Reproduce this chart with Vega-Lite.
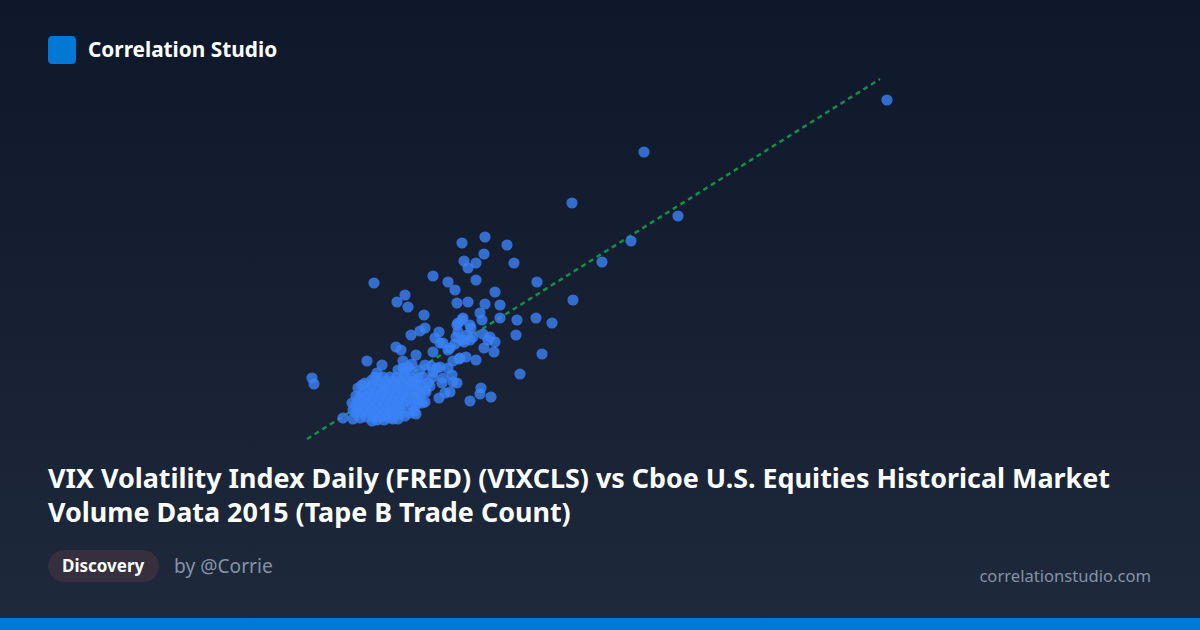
{
  "$schema": "https://vega.github.io/schema/vega-lite/v5.json",
  "width": 1200,
  "height": 630,
  "autosize": {"type": "fit", "contains": "padding"},
  "padding": 0,
  "background": "#0f172a",
  "config": {"view": {"stroke": null}},
  "datasets": {
    "days": [
      {"vix":39.35,"trades":5300},{"vix":27.2,"trades":4780},{"vix":23.6,"trades":4270},{"vix":28.9,"trades":4140},{"vix":26.55,"trades":3890},{"vix":25.1,"trades":3680},{"vix":23.65,"trades":3300},{"vix":21.85,"trades":3480},{"vix":20.35,"trades":3850},{"vix":20.7,"trades":3670},
      {"vix":19.25,"trades":3930},{"vix":18.1,"trades":3870},{"vix":18.2,"trades":3690},{"vix":18.8,"trades":3670},{"vix":19.2,"trades":3760},{"vix":18.4,"trades":3620},{"vix":18.8,"trades":3500},{"vix":16.65,"trades":3540},{"vix":17.4,"trades":3480},{"vix":17.75,"trades":3400},
      {"vix":13.7,"trades":3470},{"vix":15.25,"trades":3350},{"vix":14.85,"trades":3280},{"vix":15.4,"trades":3230},{"vix":17.85,"trades":3270},{"vix":18.4,"trades":3280},{"vix":19.25,"trades":3260},{"vix":19.75,"trades":3380},{"vix":20,"trades":3250},{"vix":20,"trades":3120},
      {"vix":19,"trades":3170},{"vix":20.85,"trades":3100},{"vix":21.8,"trades":3120},{"vix":22.6,"trades":3070},{"vix":20.8,"trades":2950},{"vix":22.1,"trades":2760},{"vix":21,"trades":2560},{"vix":16.2,"trades":3150},{"vix":15.55,"trades":2950},{"vix":16,"trades":2990},
      {"vix":16.25,"trades":3020},{"vix":16.75,"trades":2920},{"vix":16.95,"trades":2980},{"vix":17.85,"trades":3050},{"vix":18.1,"trades":3100},{"vix":18.5,"trades":3050},{"vix":19.1,"trades":3100},{"vix":17.9,"trades":2980},{"vix":17.8,"trades":2930},{"vix":18.5,"trades":2900},
      {"vix":19.15,"trades":2960},{"vix":19.5,"trades":2930},{"vix":19.75,"trades":2880},{"vix":19.2,"trades":2820},{"vix":19.7,"trades":2780},{"vix":18.65,"trades":2930},{"vix":18.2,"trades":2880},{"vix":17.75,"trades":2860},{"vix":17.4,"trades":2800},{"vix":17,"trades":2870},
      {"vix":16.65,"trades":2780},{"vix":18.8,"trades":2700},{"vix":18.3,"trades":2730},{"vix":18,"trades":2720},{"vix":17.65,"trades":2690},{"vix":14.8,"trades":2830},{"vix":15.05,"trades":2800},{"vix":13.35,"trades":2690},{"vix":15.15,"trades":2690},{"vix":15.8,"trades":2750},
      {"vix":15.6,"trades":2660},{"vix":16.25,"trades":2650},{"vix":16.55,"trades":2640},{"vix":17,"trades":2630},{"vix":17.4,"trades":2620},{"vix":17.6,"trades":2550},{"vix":17.15,"trades":2520},{"vix":16.65,"trades":2580},{"vix":17.85,"trades":2470},{"vix":17.65,"trades":2480},
      {"vix":16.4,"trades":2470},{"vix":17.1,"trades":2470},{"vix":17.5,"trades":2380},{"vix":17.25,"trades":2370},{"vix":16.95,"trades":2320},{"vix":18.5,"trades":2290},{"vix":19,"trades":2360},{"vix":19.05,"trades":2420},{"vix":19.55,"trades":2330},{"vix":10.6,"trades":2520},
      {"vix":10.7,"trades":2460},{"vix":12.15,"trades":2120},{"vix":14.1,"trades":2650},{"vix":13.85,"trades":2570},{"vix":13.25,"trades":2470},{"vix":12.9,"trades":2420},{"vix":12.65,"trades":2200},{"vix":12.65,"trades":2110},{"vix":13,"trades":2120},{"vix":13.6,"trades":2090},
      {"vix":14.65,"trades":2110},{"vix":15.5,"trades":2170},{"vix":15.8,"trades":2160},{"vix":16.1,"trades":2270},{"vix":16.25,"trades":2280},{"vix":17.15,"trades":2870},{"vix":17.5,"trades":2820},{"vix":18.1,"trades":2900},{"vix":17.95,"trades":2710},{"vix":17.9,"trades":3070},
      {"vix":18.15,"trades":3120},{"vix":18.55,"trades":3020},{"vix":18.35,"trades":2950},{"vix":19.4,"trades":2900},
      {"vix":14.15,"trades":2530},{"vix":14.5,"trades":2530},{"vix":14.85,"trades":2530},{"vix":15.2,"trades":2530},
      {"vix":13.9,"trades":2490},{"vix":14.3,"trades":2490},{"vix":14.65,"trades":2490},{"vix":15,"trades":2490},{"vix":15.4,"trades":2490},{"vix":15.65,"trades":2490},
      {"vix":13.6,"trades":2450},{"vix":14.1,"trades":2450},{"vix":14.45,"trades":2450},{"vix":14.8,"trades":2450},{"vix":15.15,"trades":2450},{"vix":15.5,"trades":2450},{"vix":15.85,"trades":2450},
      {"vix":13.5,"trades":2410},{"vix":13.9,"trades":2410},{"vix":14.25,"trades":2410},{"vix":14.6,"trades":2410},{"vix":14.95,"trades":2410},{"vix":15.3,"trades":2410},{"vix":15.7,"trades":2410},
      {"vix":13.1,"trades":2370},{"vix":13.4,"trades":2370},{"vix":13.75,"trades":2370},{"vix":14.1,"trades":2370},{"vix":14.45,"trades":2370},{"vix":14.8,"trades":2370},{"vix":15.15,"trades":2370},{"vix":15.55,"trades":2370},{"vix":15.95,"trades":2370},
      {"vix":13,"trades":2330},{"vix":13.3,"trades":2330},{"vix":13.65,"trades":2330},{"vix":14,"trades":2330},{"vix":14.35,"trades":2330},{"vix":14.7,"trades":2330},{"vix":15.05,"trades":2330},{"vix":15.4,"trades":2330},{"vix":15.75,"trades":2330},
      {"vix":12.9,"trades":2290},{"vix":13.2,"trades":2290},{"vix":13.55,"trades":2290},{"vix":13.9,"trades":2290},{"vix":14.25,"trades":2290},{"vix":14.6,"trades":2290},{"vix":14.95,"trades":2290},{"vix":15.3,"trades":2290},
      {"vix":12.8,"trades":2250},{"vix":13.1,"trades":2250},{"vix":13.45,"trades":2250},{"vix":13.8,"trades":2250},{"vix":14.15,"trades":2250},{"vix":14.5,"trades":2250},{"vix":14.85,"trades":2250},{"vix":15.15,"trades":2250},{"vix":15.8,"trades":2250},
      {"vix":12.9,"trades":2210},{"vix":13.25,"trades":2210},{"vix":13.6,"trades":2210},{"vix":13.95,"trades":2210},{"vix":14.3,"trades":2210},{"vix":14.65,"trades":2210},{"vix":15,"trades":2210},
      {"vix":12.8,"trades":2170},{"vix":13.1,"trades":2170},{"vix":13.45,"trades":2170},{"vix":13.8,"trades":2170},{"vix":14.15,"trades":2170},{"vix":14.5,"trades":2170},{"vix":14.85,"trades":2170},
      {"vix":13.3,"trades":2130},{"vix":13.65,"trades":2130},{"vix":14,"trades":2130},{"vix":14.35,"trades":2130},{"vix":13.85,"trades":2100},{"vix":14.2,"trades":2100},
      {"vix":15.5,"trades":2600},{"vix":16,"trades":2600},{"vix":15.65,"trades":2520},{"vix":16.15,"trades":2530},{"vix":16.65,"trades":2530},{"vix":15.25,"trades":2580},{"vix":16.85,"trades":2620},
      {"vix":15.6,"trades":2250},{"vix":15.9,"trades":2300},{"vix":15,"trades":2160},{"vix":15.25,"trades":2140},{"vix":16,"trades":2350},{"vix":16.3,"trades":2380},{"vix":15.7,"trades":2190},{"vix":16,"trades":2450},{"vix":16.25,"trades":2400},{"vix":16.5,"trades":2440},
      {"vix":15.9,"trades":2520},{"vix":13.6,"trades":2500},{"vix":13.75,"trades":2530},{"vix":13.1,"trades":2450},{"vix":12.8,"trades":2340},{"vix":12.6,"trades":2270},{"vix":14.5,"trades":2120},{"vix":14.9,"trades":2110},{"vix":15.4,"trades":2630},{"vix":14.9,"trades":2600},{"vix":15.15,"trades":2620}
    ],
    "trend": [{"vix":10.35,"trades":1910},{"vix":39,"trades":5510}]
  },
  "layer": [
    {
      "data": {"values": [{"part": "background"}]},
      "mark": {"type": "rect", "fill": {"gradient": "linear", "x1": 0, "y1": 0, "x2": 0, "y2": 1, "stops": [{"offset": 0, "color": "#0f172a"}, {"offset": 1, "color": "#1e293b"}]}},
      "encoding": {
        "x": {"datum": -5, "type": "quantitative", "axis": null, "scale": {"domain": [-5, 55], "nice": false, "zero": false}},
        "x2": {"datum": 55},
        "y": {"datum": 0, "type": "quantitative", "axis": null, "scale": {"domain": [0, 6300], "nice": false, "zero": false}},
        "y2": {"datum": 6300}
      }
    },
    {
      "data": {"values": [{"part": "footer"}]},
      "mark": {"type": "rect", "fill": "#0078d4"},
      "encoding": {"x": {"datum": -5, "type": "quantitative"}, "x2": {"datum": 55}, "y": {"datum": 0, "type": "quantitative"}, "y2": {"datum": 120}}
    },
    {
      "data": {"values": [{"part": "logo"}]},
      "mark": {"type": "rect", "fill": "#0078d4", "cornerRadius": 4},
      "encoding": {"x": {"datum": -2.6, "type": "quantitative"}, "x2": {"datum": -1.2}, "y": {"datum": 5940, "type": "quantitative"}, "y2": {"datum": 5660}}
    },
    {
      "data": {"values": [{"part": "pill"}]},
      "mark": {"type": "rect", "fill": "#352f3e", "cornerRadius": 16},
      "encoding": {"x": {"datum": -2.6, "type": "quantitative"}, "x2": {"datum": 2.95}, "y": {"datum": 800, "type": "quantitative"}, "y2": {"datum": 480}}
    },
    {
      "data": {"name": "trend"},
      "mark": {"type": "line", "stroke": "#16a34a", "strokeWidth": 2.5, "strokeDash": [5, 4], "opacity": 0.85},
      "encoding": {"x": {"field": "vix", "type": "quantitative"}, "y": {"field": "trades", "type": "quantitative"}}
    },
    {
      "data": {"name": "days"},
      "mark": {"type": "circle", "size": 125, "color": "#3b82f6", "opacity": 0.8},
      "encoding": {"x": {"field": "vix", "type": "quantitative"}, "y": {"field": "trades", "type": "quantitative"}}
    },
    {
      "data": {"values": [{"label": "Correlation Studio"}]},
      "mark": {"type": "text", "font": "Noto Sans", "fontWeight": 700, "fontSize": 20.8, "fill": "#ffffff", "align": "left", "baseline": "middle"},
      "encoding": {"x": {"datum": -0.6, "type": "quantitative"}, "y": {"datum": 5790, "type": "quantitative"}, "text": {"field": "label"}}
    },
    {
      "data": {"values": [{"label": "VIX Volatility Index Daily (FRED) (VIXCLS) vs Cboe U.S. Equities Historical Market"}]},
      "mark": {"type": "text", "font": "Noto Sans", "fontWeight": 700, "fontSize": 26.9, "fill": "#ffffff", "align": "left", "baseline": "alphabetic"},
      "encoding": {"x": {"datum": -2.6, "type": "quantitative"}, "y": {"datum": 1420, "type": "quantitative"}, "text": {"field": "label"}}
    },
    {
      "data": {"values": [{"label": "Volume Data 2015 (Tape B Trade Count)"}]},
      "mark": {"type": "text", "font": "Noto Sans", "fontWeight": 700, "fontSize": 26.9, "fill": "#ffffff", "align": "left", "baseline": "alphabetic"},
      "encoding": {"x": {"datum": -2.6, "type": "quantitative"}, "y": {"datum": 1080, "type": "quantitative"}, "text": {"field": "label"}}
    },
    {
      "data": {"values": [{"label": "Discovery"}]},
      "mark": {"type": "text", "font": "Noto Sans", "fontWeight": 700, "fontSize": 17, "fill": "#ffffff", "align": "left", "baseline": "middle"},
      "encoding": {"x": {"datum": -1.9, "type": "quantitative"}, "y": {"datum": 635, "type": "quantitative"}, "text": {"field": "label"}}
    },
    {
      "data": {"values": [{"label": "by @Corrie"}]},
      "mark": {"type": "text", "font": "Noto Sans", "fontSize": 19.2, "fill": "#8593a8", "align": "left", "baseline": "middle"},
      "encoding": {"x": {"datum": 3.7, "type": "quantitative"}, "y": {"datum": 635, "type": "quantitative"}, "text": {"field": "label"}}
    },
    {
      "data": {"values": [{"label": "correlationstudio.com"}]},
      "mark": {"type": "text", "font": "Noto Sans", "fontSize": 16.6, "fill": "#8593a8", "align": "right", "baseline": "middle"},
      "encoding": {"x": {"datum": 52.55, "type": "quantitative"}, "y": {"datum": 535, "type": "quantitative"}, "text": {"field": "label"}}
    }
  ]
}
